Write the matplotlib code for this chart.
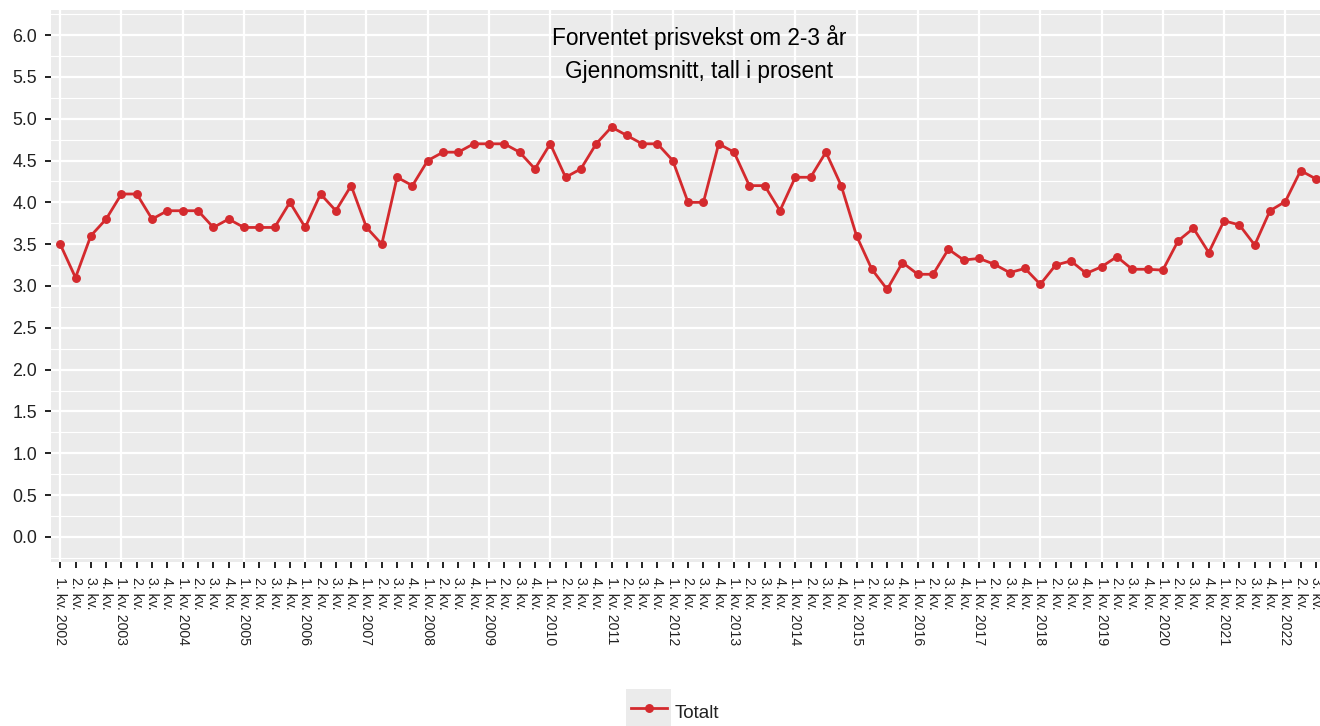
import numpy as np
import matplotlib
matplotlib.use('Agg')
import matplotlib.pyplot as plt
from matplotlib.ticker import MultipleLocator

plt.rcParams['font.family'] = ['Liberation Sans', 'DejaVu Sans']

# data: forventet prisvekst om 2-3 år, kvartalsvis 2002-2022
years = list(range(2002, 2023))
quarters = ['1. kv.', '2. kv.', '3. kv.', '4. kv.']
totalt = [
    3.5, 3.1, 3.6, 3.8,      # 2002
    4.1, 4.1, 3.8, 3.9,      # 2003
    3.9, 3.9, 3.7, 3.8,      # 2004
    3.7, 3.7, 3.7, 4.0,      # 2005
    3.7, 4.1, 3.9, 4.2,      # 2006
    3.7, 3.5, 4.3, 4.2,      # 2007
    4.5, 4.6, 4.6, 4.7,      # 2008
    4.7, 4.7, 4.6, 4.4,      # 2009
    4.7, 4.3, 4.4, 4.7,      # 2010
    4.9, 4.8, 4.7, 4.7,      # 2011
    4.5, 4.0, 4.0, 4.7,      # 2012
    4.6, 4.2, 4.2, 3.9,      # 2013
    4.3, 4.3, 4.6, 4.2,      # 2014
    3.6, 3.2, 2.96, 3.28,    # 2015
    3.14, 3.14, 3.44, 3.31,  # 2016
    3.33, 3.26, 3.16, 3.21,  # 2017
    3.02, 3.25, 3.30, 3.15,  # 2018
    3.23, 3.35, 3.20, 3.20,  # 2019
    3.19, 3.54, 3.69, 3.40,  # 2020
    3.78, 3.73, 3.49, 3.90,  # 2021
    4.01, 4.38, 4.28,        # 2022
]
series_name = 'Totalt'
title_lines = ['Forventet prisvekst om 2-3 år', 'Gjennomsnitt, tall i prosent']

# tick labels: "1. kv. 2002", "2. kv.", ...
labels = []
for y in years:
    for q in quarters:
        labels.append(f'{q} {y}' if q == '1. kv.' else q)
labels = labels[:len(totalt)]

red = '#D42A2E'
panel = '#EBEBEB'
txt = '#222222'

W, H = 1320, 726
fig = plt.figure(figsize=(W / 100, H / 100), dpi=100)
ax = fig.add_axes([51 / W, 1 - 562 / H, 1 - 51 / W + 0.001, (562 - 10) / H])
ax.set_facecolor(panel)

x = np.arange(len(totalt))
ax.plot(x, totalt, color=red, lw=2.0, marker='o', ms=5.4, zorder=3)

ax.set_xlim(-0.6, 82.35)
ax.set_ylim(-0.3, 6.3)
ax.yaxis.set_major_locator(MultipleLocator(0.5))
ax.yaxis.set_minor_locator(MultipleLocator(0.25))
ax.yaxis.set_major_formatter(matplotlib.ticker.FormatStrFormatter('%.1f'))

ax.set_xticks(x)
ax.set_xticklabels(labels, rotation=270, ha='center', va='top', fontsize=10.2, color=txt)
ax.tick_params(axis='x', length=4.5, width=1.4, color=txt, pad=6)
ax.tick_params(axis='y', which='major', length=4.5, width=1.4, color=txt, labelsize=12.8,
               labelcolor=txt, pad=5.5)
ax.tick_params(axis='y', which='minor', length=0)

ax.grid(False)
for yv in np.arange(-0.25, 6.3, 0.25):
    ax.axhline(yv, color='white', lw=1.6 if abs(yv * 2 - round(yv * 2)) < 1e-9 else 0.8, zorder=1)
for xv in x[::4]:
    ax.axvline(xv, color='white', lw=1.6, zorder=1)
for s in ax.spines.values():
    s.set_visible(False)

ax.text(0.51, 0.95, title_lines[0], transform=ax.transAxes, ha='center', va='center',
        fontsize=16.3, color='black')
ax.text(0.51, 0.888, title_lines[1], transform=ax.transAxes, ha='center', va='center',
        fontsize=16.3, color='black')

# legend key, ggplot style
kax = fig.add_axes([626 / W, 1 - 726 / H, 45 / W, 37 / H])
kax.set_facecolor(panel)
kax.plot([0.1, 0.9], [0.5, 0.5], color=red, lw=2.0)
kax.plot([0.5], [0.5], color=red, marker='o', ms=5.4)
kax.set_xlim(0, 1)
kax.set_ylim(0, 1)
kax.set_xticks([])
kax.set_yticks([])
for s in kax.spines.values():
    s.set_visible(False)
fig.text(675 / W, 1 - 713 / H, series_name, ha='left', va='center', fontsize=13.5, color=txt)

fig.savefig('out.png', dpi=100)
